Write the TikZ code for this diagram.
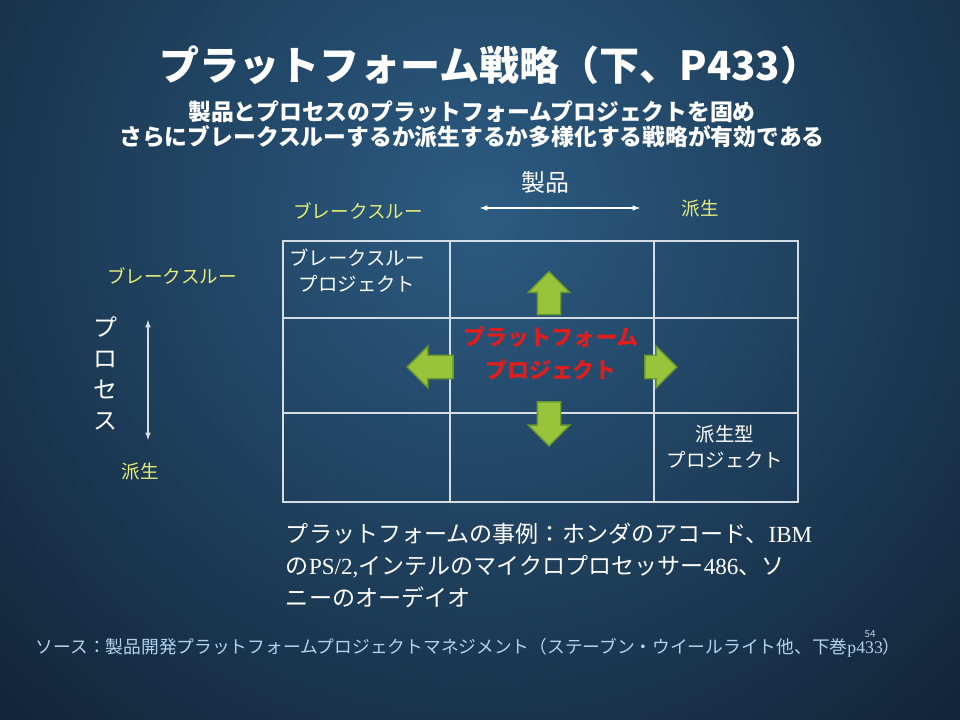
\documentclass[tikz,border=0pt]{standalone}
\usepackage{fontspec}
\setmainfont{Noto Sans CJK JP}
\newfontfamily\latin{Liberation Serif}
\usetikzlibrary{shapes.arrows}
\definecolor{bgcenter}{HTML}{2C5B82}
\definecolor{bgedge}{HTML}{0A1522}
\definecolor{axisyellow}{HTML}{E6EC7A}
\definecolor{platred}{HTML}{E01E1E}
\definecolor{arrowgreen}{HTML}{98C43C}
\definecolor{arrowedge}{HTML}{6A9830}
\definecolor{gridline}{HTML}{D4DCE4}
\definecolor{sourceblue}{HTML}{B4D2EE}
\begin{document}
\begin{tikzpicture}[
  x=0.025cm, y=-0.025cm,
  axislabel/.style={text=axisyellow, font=\fontsize{13.2}{16}\selectfont},
  celltext/.style={text=white, align=center, font=\fontsize{13.8}{18.5}\selectfont},
  growth/.style={single arrow, draw=arrowedge, fill=arrowgreen, line width=1pt,
    minimum width=1cm, single arrow head extend=0.225cm, inner xsep=0pt, inner ysep=0.275cm},
  font=\small
]
\useasboundingbox (0,0) rectangle (960,720);
% background
\begin{scope}
  \clip (0,0) rectangle (960,720);
  \fill[bgedge] (0,0) rectangle (960,720);
  \shade[inner color=bgcenter, outer color=bgedge] (480,210) circle (900);
\end{scope}

% headings
\node[text=white, font=\fontsize{28.5}{32}\selectfont\bfseries] (title) at (490,65) {プラットフォーム戦略（下、P433）};
\node[text=white, align=center, font=\fontsize{16.2}{17.8}\selectfont\bfseries] (lead) at (472,124)
  {製品とプロセスのプラットフォームプロジェクトを固め\\さらにブレークスルーするか派生するか多様化する戦略が有効である};

% axes
\node[text=white, font=\fontsize{17}{20}\selectfont] (product) at (545,182) {製品};
\node[axislabel] (top_bt) at (358,211) {ブレークスルー};
\node[axislabel] (top_dv) at (700,208) {派生};
\coordinate (h_from) at (480,208);
\coordinate (h_to) at (640,208);
\draw[<->,>=latex,white,thick] (h_from) -- (h_to);

\node[text=white, align=center, font=\fontsize{17}{22}\selectfont] (process) at (105,373) {プ\\ロ\\セ\\ス};
\node[axislabel] (left_bt) at (172,276) {ブレークスルー};
\node[axislabel] (left_dv) at (140,471) {派生};
\coordinate (v_from) at (148,320);
\coordinate (v_to) at (148,440);
\draw[<->,>=latex,gridline,thick] (v_from) -- (v_to);

% grid
\draw[gridline, line width=1.2pt] (283,241) rectangle (798,502);
\foreach \x in {450,654} \draw[gridline, line width=1.2pt] (\x,241) -- (\x,502);
\foreach \y in {318,413} \draw[gridline, line width=1.2pt] (283,\y) -- (798,\y);

\node[celltext] (breakthrough) at (357,271) {ブレークスルー\\プロジェクト};
\node[celltext] (derivative) at (725,447) {派生型\\プロジェクト};

% platform and its four arrows
\node[growth, minimum height=1.075cm, rotate=90] (up) at (549,299) {};
\node[growth, minimum height=1.1cm, rotate=-90] (down) at (549,418) {};
\node[growth, minimum height=1.15cm, rotate=180] (left) at (436,367) {};
\node[growth, minimum height=0.8cm] (right) at (655,367) {};
\node[text=platred, align=center, font=\fontsize{15.6}{23.5}\selectfont\bfseries] (platform) at (551,353)
  {プラットフォーム\\プロジェクト};

% notes
\node[text=white, anchor=north west, align=left, font=\fontsize{16.4}{22.8}\selectfont] (cases) at (281,518)
  {プラットフォームの事例：ホンダのアコード、{\latin IBM}\\の{\latin PS/2,}インテルのマイクロプロセッサー{\latin 486}、ソ\\ニーのオーデイオ};
\node[text=sourceblue, anchor=west, font=\fontsize{12.6}{15}\selectfont] (source) at (31,648)
  {ソース：製品開発プラットフォームプロジェクトマネジメント（ステーブン・ウイールライト他、下巻{\latin p433}）};
\node[text=sourceblue, font=\fontsize{7}{8}\selectfont] (page) at (870,634) {54};
\end{tikzpicture}
\end{document}
